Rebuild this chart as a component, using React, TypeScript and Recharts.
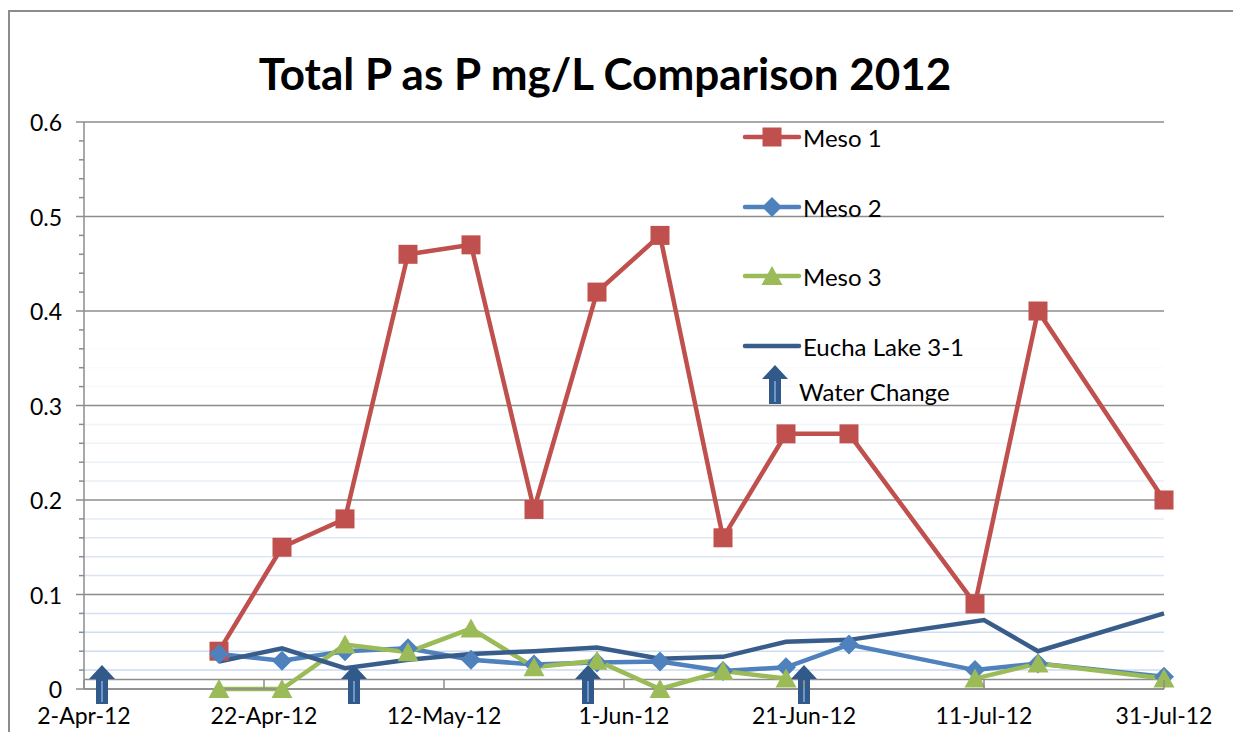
import {
  ComposedChart,
  Line,
  XAxis,
  YAxis,
  CartesianGrid,
  ReferenceLine,
  ReferenceDot,
} from "recharts";

// sampling dates for the three mesocosms (weekly, one week skipped twice)
const mesoDates = [
  "2012-04-17", "2012-04-24", "2012-05-01", "2012-05-08", "2012-05-15",
  "2012-05-22", "2012-05-29", "2012-06-05", "2012-06-12", "2012-06-19",
  "2012-06-26", "2012-07-10", "2012-07-17", "2012-07-31",
];
const meso1 = [0.04, 0.15, 0.18, 0.46, 0.47, 0.19, 0.42, 0.48, 0.16, 0.27, 0.27, 0.09, 0.4, 0.2];
const meso2 = [0.037, 0.03, 0.04, 0.043, 0.031, 0.026, 0.028, 0.029, 0.019, 0.023, 0.047, 0.02, 0.027, 0.013];
const meso3 = [0, 0, 0.047, 0.039, 0.064, 0.023, 0.03, 0, 0.019, 0.011, null, 0.011, 0.027, 0.011];

const euchaDates = [
  "2012-04-17", "2012-04-24", "2012-05-01", "2012-05-08", "2012-05-15",
  "2012-05-22", "2012-05-29", "2012-06-05", "2012-06-12", "2012-06-19",
  "2012-06-26", "2012-07-11", "2012-07-17", "2012-07-31",
];
const eucha = [0.029, 0.043, 0.022, 0.031, 0.037, 0.04, 0.044, 0.032, 0.034, 0.05, 0.052, 0.073, 0.04, 0.08];

const waterChangeDates = ["2012-04-04", "2012-05-02", "2012-05-28", "2012-06-21"];

const xTickDates = ["2012-04-02", "2012-04-22", "2012-05-12", "2012-06-01", "2012-06-21", "2012-07-11", "2012-07-31"];
const xTickLabels = ["2-Apr-12", "22-Apr-12", "12-May-12", "1-Jun-12", "21-Jun-12", "11-Jul-12", "31-Jul-12"];
const yMajorTicks = [0, 0.1, 0.2, 0.3, 0.4, 0.5, 0.6];
const yTickLabels = ["0", "0.1", "0.2", "0.3", "0.4", "0.5", "0.6"];
const yMinorStep = 0.02;

const RED = "#C0504D";
const BLUE = "#4F81BD";
const GREEN = "#9BBB59";
const NAVY = "#385D8A";
const ARROW = "#31598A";
const ARROW_LIGHT = "#6C97CC";
const GRID = "#8C8C8C";
const MINOR = "#C9D8EE";
const FONT = 'Lato, "Open Sans", sans-serif';

const toTime = (d: string) => Date.parse(`${d}T00:00:00Z`);
const series = (dates: string[], values: (number | null)[]) =>
  dates.map((d, i) => ({ t: toTime(d), v: values[i] }));

const meso1Data = series(mesoDates, meso1);
const meso2Data = series(mesoDates, meso2);
const meso3Data = series(mesoDates, meso3);
const euchaData = series(euchaDates, eucha);
const xTicks = xTickDates.map(toTime);

const yAllTicks: number[] = [];
for (let k = 0; k <= 30; k++) yAllTicks.push(Math.round(k * yMinorStep * 100) / 100);
const yMinorOnly = yAllTicks.filter((v) => !yMajorTicks.includes(v));

const Square = (cx: number, cy: number, key?: any) => (
  <rect key={key} x={cx - 9.5} y={cy - 9.5} width={19} height={19} fill={RED} />
);
const Diamond = (cx: number, cy: number, key?: any) => (
  <polygon key={key} points={`${cx},${cy - 10} ${cx + 10},${cy} ${cx},${cy + 10} ${cx - 10},${cy}`} fill={BLUE} />
);
const Triangle = (cx: number, cy: number, key?: any) => (
  <polygon key={key} points={`${cx},${cy - 10} ${cx + 10.5},${cy + 9} ${cx - 10.5},${cy + 9}`} fill={GREEN} />
);

const dotOf = (draw: (cx: number, cy: number, key?: any) => any) => (props: any) => {
  const { cx, cy, index, value } = props;
  if (cx == null || cy == null || value == null || (Array.isArray(value) && value[1] == null)) {
    return <g key={`e-${index}`} />;
  }
  return draw(cx, cy, `d-${index}`);
};

const arrowPath = (cx: number, cy: number) =>
  `${cx},${cy - 24} ${cx + 13},${cy - 10} ${cx + 6},${cy - 10} ${cx + 6},${cy + 15} ${cx - 6},${cy + 15} ${cx - 6},${cy - 10} ${cx - 13},${cy - 10}`;

const ArrowMark = (props: any) => {
  const { cx, cy } = props;
  return (
    <g>
      <polygon points={arrowPath(cx, cy)} fill={ARROW} />
      <line x1={cx} y1={cy - 8} x2={cx} y2={cy + 13} stroke={ARROW_LIGHT} strokeWidth={2} />
    </g>
  );
};

const XTick = (props: any) => {
  const { x, y, payload } = props;
  const i = xTicks.indexOf(payload.value);
  return (
    <g>
      <line x1={x} y1={y - 9} x2={x} y2={y} stroke={GRID} strokeWidth={1.5} />
      <text x={x} y={y + 35} textAnchor="middle" fontSize={23} fontFamily={FONT} fill="#000">
        {i >= 0 ? xTickLabels[i] : ""}
      </text>
    </g>
  );
};

const YTick = (props: any) => {
  const { x, y, payload } = props;
  const i = yMajorTicks.indexOf(payload.value);
  const major = i >= 0;
  return (
    <g>
      <line x1={x - (major ? 8 : 5)} y1={y} x2={x} y2={y} stroke={GRID} strokeWidth={1.5} />
      {major && (
        <text x={x - 22} y={y} textAnchor="end" dominantBaseline="central" fontSize={23} fontFamily={FONT} fill="#000">
          {yTickLabels[i]}
        </text>
      )}
    </g>
  );
};

const legendRows = [
  { name: "Meso 1", color: RED, mark: Square, y: 125 },
  { name: "Meso 2", color: BLUE, mark: Diamond, y: 195 },
  { name: "Meso 3", color: GREEN, mark: Triangle, y: 264 },
  { name: "Eucha Lake 3-1", color: NAVY, mark: null, y: 334 },
];

export default function App() {
  return (
    <div
      style={{
        position: "relative",
        marginTop: 2,
        width: 1225,
        height: 722,
        borderTop: `2px solid ${GRID}`,
        borderLeft: `2px solid ${GRID}`,
        boxSizing: "border-box",
        background: "#fff",
      }}
    >
      <ComposedChart width={1223} height={720} margin={{ top: 110, right: 69, bottom: 3, left: 14 }}>
        <CartesianGrid horizontal vertical={false} horizontalValues={yMajorTicks} stroke={GRID} strokeWidth={1.5} />
        {yMinorOnly.map((v) => (
          <ReferenceLine
            key={v}
            y={v}
            stroke={MINOR}
            strokeWidth={1.5}
            strokeOpacity={Math.max(0, 1 - v / 0.38)}
          />
        ))}
        <ReferenceLine y={0.01} stroke={GRID} strokeWidth={1.5} />
        <XAxis
          dataKey="t"
          type="number"
          domain={[xTicks[0], xTicks[xTicks.length - 1]]}
          ticks={xTicks}
          interval={0}
          height={40}
          tickSize={0}
          tickMargin={0}
          tickLine={false}
          axisLine={{ stroke: GRID, strokeWidth: 1.5 }}
          tick={XTick}
        />
        <YAxis
          type="number"
          domain={[0, 0.6]}
          ticks={yAllTicks}
          interval={0}
          width={60}
          tickSize={0}
          tickMargin={0}
          tickLine={false}
          axisLine={{ stroke: GRID, strokeWidth: 1.5 }}
          tick={YTick}
        />
        <Line data={meso1Data} dataKey="v" name="Meso 1" stroke={RED} strokeWidth={4.5} dot={dotOf(Square)} activeDot={false} isAnimationActive={false} />
        <Line data={meso2Data} dataKey="v" name="Meso 2" stroke={BLUE} strokeWidth={4.5} dot={dotOf(Diamond)} activeDot={false} isAnimationActive={false} />
        <Line data={meso3Data} dataKey="v" name="Meso 3" stroke={GREEN} strokeWidth={4.5} dot={dotOf(Triangle)} activeDot={false} isAnimationActive={false} />
        <Line data={euchaData} dataKey="v" name="Eucha Lake 3-1" stroke={NAVY} strokeWidth={4.5} dot={false} activeDot={false} isAnimationActive={false} />
        {waterChangeDates.map((d) => (
          <ReferenceDot key={d} x={toTime(d)} y={0} r={0} ifOverflow="visible" shape={ArrowMark} />
        ))}
      </ComposedChart>

      <svg
        width={1223}
        height={720}
        style={{ position: "absolute", left: 0, top: 0, pointerEvents: "none" }}
      >
        <text x={595} y={78} textAnchor="middle" fontSize={44} fontWeight={700} fontFamily={FONT} fill="#000">
          Total P as P mg/L Comparison 2012
        </text>
        {legendRows.map((r) => (
          <g key={r.name}>
            <line x1={735} y1={r.y} x2={789} y2={r.y} stroke={r.color} strokeWidth={4.5} strokeLinecap="round" />
            {r.mark && r.mark(762, r.y)}
            <text x={793} y={r.y} dominantBaseline="central" fontSize={24} fontFamily={FONT} fill="#000">
              {r.name}
            </text>
          </g>
        ))}
        <polygon points={arrowPath(765, 377)} fill={ARROW} />
        <line x1={765} y1={369} x2={765} y2={390} stroke={ARROW_LIGHT} strokeWidth={2} />
        <text x={789} y={379} dominantBaseline="central" fontSize={24} fontFamily={FONT} fill="#000">
          Water Change
        </text>
      </svg>
    </div>
  );
}
